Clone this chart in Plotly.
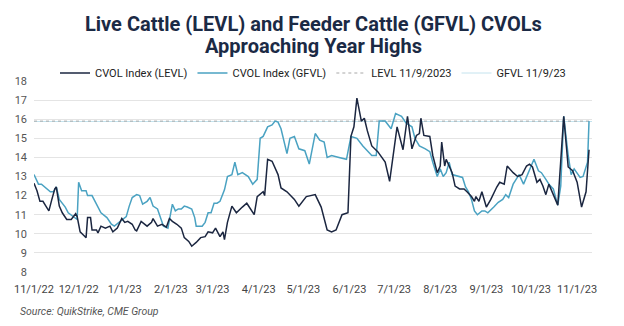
import plotly.graph_objects as go

levl_dates = ["2022-11-01","2022-11-03","2022-11-05","2022-11-07","2022-11-09","2022-11-11","2022-11-13","2022-11-15","2022-11-16","2022-11-18","2022-11-20","2022-11-23","2022-11-26","2022-11-29","2022-11-30",
"2022-12-02","2022-12-04","2022-12-06","2022-12-07","2022-12-09","2022-12-10","2022-12-13","2022-12-14","2022-12-16","2022-12-19","2022-12-22","2022-12-24","2022-12-27","2022-12-30",
"2023-01-01","2023-01-03","2023-01-06","2023-01-08","2023-01-09","2023-01-12","2023-01-16","2023-01-19","2023-01-20","2023-01-23","2023-01-26","2023-01-29","2023-01-31",
"2023-02-02","2023-02-05","2023-02-08","2023-02-10","2023-02-13","2023-02-15","2023-02-18","2023-02-21","2023-02-24","2023-02-26",
"2023-03-01","2023-03-03","2023-03-06","2023-03-08","2023-03-09","2023-03-11","2023-03-14","2023-03-17","2023-03-21","2023-03-24","2023-03-29","2023-03-31",
"2023-04-04","2023-04-05","2023-04-07","2023-04-10","2023-04-14","2023-04-16","2023-04-20","2023-04-25","2023-04-28",
"2023-05-03","2023-05-09","2023-05-13","2023-05-17","2023-05-20","2023-05-23","2023-05-27","2023-05-31",
"2023-06-02","2023-06-04","2023-06-06","2023-06-09","2023-06-11","2023-06-13","2023-06-16","2023-06-20","2023-06-25","2023-06-28",
"2023-07-03","2023-07-07","2023-07-10","2023-07-13","2023-07-16","2023-07-18","2023-07-19","2023-07-21","2023-07-25","2023-07-27","2023-07-30",
"2023-08-01","2023-08-02","2023-08-04","2023-08-05","2023-08-09","2023-08-11","2023-08-14","2023-08-17","2023-08-19","2023-08-22","2023-08-24","2023-08-25","2023-08-27","2023-08-29",
"2023-09-01","2023-09-04","2023-09-08","2023-09-10","2023-09-13","2023-09-15","2023-09-19","2023-09-22","2023-09-25","2023-09-28","2023-09-30",
"2023-10-02","2023-10-05","2023-10-07","2023-10-09","2023-10-11","2023-10-13","2023-10-15","2023-10-19","2023-10-23","2023-10-26","2023-10-29",
"2023-11-01","2023-11-04","2023-11-07","2023-11-09"]
levl_values = [12.65,12.25,11.7,11.7,11.45,11.2,11.8,12.35,12.45,11.45,11.1,10.75,10.75,11.05,10.9,
10.1,9.95,9.8,10.85,10.85,10.2,10.2,10.05,10.4,10.3,10.4,10.1,10.3,10.8,
10.6,10.65,10.5,10.2,10.15,10.65,10.4,10.6,10.8,10.4,10.5,10.35,10.8,
10.65,10.5,10.3,9.8,9.6,9.35,9.55,9.8,9.85,10.1,
10.05,10.3,9.85,10.1,9.7,10.6,11.45,11.1,11.4,11.6,11.0,11.95,
12.2,12.0,13.9,13.8,13.1,12.4,12.2,11.8,11.45,
11.95,12.05,11.4,10.2,10.1,10.2,11.0,11.1,
15.1,15.6,17.1,15.9,16.05,15.4,14.6,14.3,13.75,12.75,
15.6,14.4,16.15,14.45,15.15,15.25,16.05,15.15,15.1,14.1,13.2,
13.55,14.8,13.55,13.9,13.2,12.5,12.35,12.35,12.2,11.95,11.7,11.95,11.7,12.2,
11.4,11.8,12.45,12.7,12.6,13.55,13.2,13.0,13.1,13.55,13.65,
13.5,12.7,12.85,12.5,12.05,12.6,12.2,11.5,16.15,13.5,13.3,
12.7,11.4,12.2,14.4]

gfvl_dates = ["2022-11-01","2022-11-04","2022-11-06","2022-11-08","2022-11-10","2022-11-12","2022-11-14","2022-11-16","2022-11-18","2022-11-20","2022-11-22","2022-11-24","2022-11-27","2022-11-30",
"2022-12-01","2022-12-03","2022-12-06","2022-12-07","2022-12-10","2022-12-12","2022-12-14","2022-12-16","2022-12-20","2022-12-23","2022-12-25","2022-12-28","2022-12-31",
"2023-01-02","2023-01-04","2023-01-06","2023-01-09","2023-01-11","2023-01-13","2023-01-16","2023-01-18","2023-01-20","2023-01-23","2023-01-25","2023-01-27","2023-01-30","2023-01-31",
"2023-02-02","2023-02-04","2023-02-06","2023-02-08","2023-02-10","2023-02-12","2023-02-15","2023-02-17","2023-02-18","2023-02-22","2023-02-24","2023-02-26","2023-02-28",
"2023-03-02","2023-03-04","2023-03-06","2023-03-09","2023-03-11","2023-03-14","2023-03-16","2023-03-18","2023-03-21","2023-03-25","2023-03-28","2023-03-31",
"2023-04-02","2023-04-04","2023-04-07","2023-04-10","2023-04-12","2023-04-14","2023-04-16","2023-04-20","2023-04-22","2023-04-25","2023-04-28",
"2023-05-02","2023-05-05","2023-05-09","2023-05-12","2023-05-15","2023-05-17","2023-05-20","2023-05-25","2023-05-30",
"2023-06-02","2023-06-06","2023-06-10","2023-06-13","2023-06-16","2023-06-19","2023-06-21","2023-06-25","2023-06-29",
"2023-07-02","2023-07-06","2023-07-09","2023-07-13","2023-07-15","2023-07-18","2023-07-22","2023-07-25","2023-07-27","2023-07-30",
"2023-08-01","2023-08-03","2023-08-05","2023-08-07","2023-08-09","2023-08-13","2023-08-16","2023-08-18","2023-08-20","2023-08-22","2023-08-24","2023-08-26","2023-08-29","2023-08-31",
"2023-09-02","2023-09-06","2023-09-09","2023-09-12","2023-09-14","2023-09-16","2023-09-19","2023-09-21","2023-09-23","2023-09-26","2023-09-30",
"2023-10-03","2023-10-06","2023-10-08","2023-10-11","2023-10-13","2023-10-16","2023-10-19","2023-10-21","2023-10-23","2023-10-26","2023-10-28","2023-10-30",
"2023-11-01","2023-11-03","2023-11-05","2023-11-08","2023-11-09"]
gfvl_values = [13.1,12.6,12.6,12.45,12.35,12.2,12.2,12.45,11.8,11.6,11.4,11.1,10.9,10.75,
12.7,12.25,12.25,12.0,12.0,11.7,11.45,11.1,10.85,10.5,10.4,10.6,10.8,
10.9,11.45,11.9,12.05,12.0,11.55,11.7,11.9,11.45,11.3,10.9,10.4,10.3,10.75,
11.55,11.2,11.3,11.3,11.45,11.4,11.3,10.85,10.4,10.4,10.6,11.1,11.1,
11.6,11.6,11.7,12.3,13.0,13.1,13.75,13.1,13.2,13.0,12.6,12.85,
15.0,15.1,15.6,15.7,15.9,15.85,15.5,14.2,15.0,15.1,14.45,
14.35,13.65,15.25,14.9,14.8,14.0,14.1,14.0,13.9,
15.1,15.0,14.6,14.35,14.1,14.1,15.9,15.9,15.5,
16.3,16.15,15.8,15.6,15.0,14.6,14.45,14.3,13.75,13.0,
13.4,13.0,13.2,13.75,13.1,13.0,12.95,12.45,12.2,11.8,11.2,11.0,11.2,11.2,
11.1,11.4,11.65,11.8,12.05,11.9,12.6,12.85,13.1,12.6,13.4,
13.9,13.3,13.2,12.85,12.6,12.35,11.5,12.5,16.15,14.1,13.1,13.4,
13.2,12.95,13.0,13.75,15.9]

ref_dates = ["2022-11-01", "2023-11-11"]
levl_ref = [15.9, 15.9]
gfvl_ref = [15.88, 15.88]

x_ticks = ["2022-11-01","2022-12-01","2023-01-01","2023-02-01","2023-03-01","2023-04-01","2023-05-01",
           "2023-06-01","2023-07-01","2023-08-01","2023-09-01","2023-10-01","2023-11-01"]
x_labels = ["11/1/22","12/1/22","1/1/23","2/1/23","3/1/23","4/1/23","5/1/23",
            "6/1/23","7/1/23","8/1/23","9/1/23","10/1/23","11/1/23"]

DARK = "#1b2640"
TEAL = "#4aa2c2"
FONT = "Roboto"

# plot area in pixels
L, R, T, B = 34, 32, 81, 54
PH = 326 - T - B
PW = 624 - L - R

fig = go.Figure()
fig.add_trace(go.Scatter(x=ref_dates, y=gfvl_ref, mode="lines", name="GFVL 11/9/23",
                         line=dict(color="#c4e3ee", width=1)))
fig.add_trace(go.Scatter(x=ref_dates, y=levl_ref, mode="lines", name="LEVL 11/9/2023",
                         line=dict(color="#a8a8a8", width=1, dash="dot")))
fig.add_trace(go.Scatter(x=gfvl_dates, y=gfvl_values, mode="lines", name="CVOL Index (GFVL)",
                         line=dict(color=TEAL, width=1.5)))
fig.add_trace(go.Scatter(x=levl_dates, y=levl_values, mode="lines", name="CVOL Index (LEVL)",
                         line=dict(color=DARK, width=1.5)))

fig.update_layout(
    width=624, height=326,
    margin=dict(l=L, r=R, t=T, b=B, autoexpand=False),
    paper_bgcolor="white", plot_bgcolor="white",
    font=dict(family=FONT, color="#333333", size=11),
    legend=dict(orientation="h", x=0.5, xanchor="center", yref="paper", y=1 + 8/PH,
                yanchor="middle", font=dict(size=11, color="#222222"), traceorder="reversed",
                bgcolor="rgba(0,0,0,0)", itemwidth=30),
    showlegend=True,
    xaxis=dict(range=["2022-11-01", "2023-11-11"], tickvals=x_ticks, ticktext=x_labels,
               showgrid=False, zeroline=False, showline=False, ticks="", ticklabelstandoff=9,
               tickfont=dict(size=11, color="#444444")),
    yaxis=dict(range=[8, 18], dtick=1, showgrid=True, gridcolor="#e4e4e4", gridwidth=1,
               zeroline=False, showline=False, ticks="", ticklabelstandoff=6,
               tickfont=dict(size=11, color="#555555")),
    annotations=[
        dict(text="<b>Live Cattle (LEVL) and Feeder Cattle (GFVL) CVOLs</b>", xref="paper", yref="paper",
             x=(313 - L) / PW, y=(326 - B - 24) / PH, xanchor="center", yanchor="middle",
             showarrow=False, font=dict(family=FONT, size=20, color="#1b2a45")),
        dict(text="<b>Approaching Year Highs</b>", xref="paper", yref="paper",
             x=(313 - L) / PW, y=(326 - B - 46) / PH, xanchor="center", yanchor="middle",
             showarrow=False, font=dict(family=FONT, size=20, color="#1b2a45")),
        dict(text="<i>Source: QuikStrike, CME Group</i>", xref="paper", yref="paper",
             x=(18 - L) / PW, y=(326 - B - 311) / PH, xanchor="left", yanchor="middle",
             showarrow=False, font=dict(family=FONT, size=10.5, color="#555555")),
    ],
)
fig.write_html("out.html")
